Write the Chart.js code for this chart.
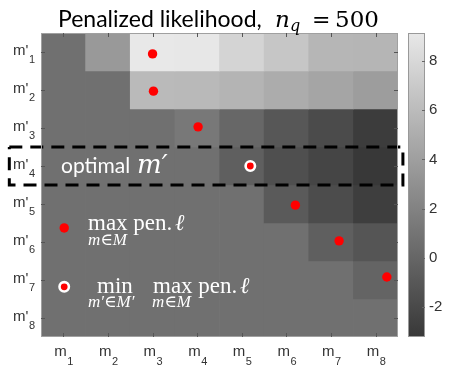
<!DOCTYPE html>
<html>
<head>
<meta charset="utf-8">
<title>Penalized likelihood</title>
<script src="https://cdn.jsdelivr.net/npm/chart.js@4.4.1/dist/chart.umd.min.js"></script>
<style>
  body { margin: 0; background: #fff; }
  #box { position: relative; width: 460px; height: 367px; }
  canvas { position: absolute; top: 0; }
  #heat { left: 0; }
  #cbar { left: 400px; }
</style>
</head>
<body>
<div id="box">
  <canvas id="heat" width="460" height="367"></canvas>
  <canvas id="cbar" width="60" height="367"></canvas>
</div>
<script>
// columns m_1..m_8, rows m'_1..m'_8
const colIndex = [1, 2, 3, 4, 5, 6, 7, 8];
const rowIndex = [1, 2, 3, 4, 5, 6, 7, 8];
const colSubs = ["1", "2", "3", "4", "5", "6", "7", "8"];
const rowSubs = ["1", "2", "3", "4", "5", "6", "7", "8"];

// penalized likelihood per row m'
const rowM1 = [0.71, 3.59, 9.14, 9.10, 7.74, 6.75, 5.63, 5.56];
const rowM2 = [0.71, 0.71, 5.91, 5.84, 5.49, 4.93, 4.43, 3.87];
const rowM3 = [0.71, 0.71, 0.71, 1.27, 0.08, -1.04, -1.89, -2.94];
const rowM4 = [0.71, 0.71, 0.71, 0.71, -0.48, -1.60, -2.31, -3.22];
const rowM5 = [0.71, 0.71, 0.71, 0.71, 0.71, -0.83, -1.82, -2.80];
const rowM6 = [0.71, 0.71, 0.71, 0.71, 0.71, 0.71, -0.48, -1.18];
const rowM7 = [0.71, 0.71, 0.71, 0.71, 0.71, 0.71, 0.71, -0.13];
const rowM8 = [0.71, 0.71, 0.71, 0.71, 0.71, 0.71, 0.71, 0.71];
const rows = [rowM1, rowM2, rowM3, rowM4, rowM5, rowM6, rowM7, rowM8];

// max over m for each row (red dots), the min-max one is ringed
const maxX = [3.0, 3.02, 4.02, 5.19, 6.2, 7.18, 8.25];
const maxY = [1.05, 2.03, 2.97, 4.0, 5.03, 5.97, 6.92];
const bestIndex = 3;

// legend markers
const legendX = [1.02, 1.02];
const legendY = [5.63, 7.18];

// dashed box round the optimal row
const boxX = [-0.21, 8.61];
const boxY = [3.5, 4.5];

// colour scale
const cbMin = -3.22;
const cbMax = 9.14;
const cbTicks = [-2, 0, 2, 4, 6, 8];

function grayFor(v) {
  const t = Math.max(0, Math.min(1, (v - cbMin) / (cbMax - cbMin)));
  const g = Math.round(56 + t * 176);
  return "rgb(" + g + "," + g + "," + g + ")";
}

function text(ctx, str, x, y, font, color) {
  ctx.font = font;
  ctx.fillStyle = color;
  ctx.fillText(str, x, y);
}

const SANS = "'Liberation Sans', Arial, sans-serif";
const SERIF = "'Liberation Serif', 'DejaVu Serif', serif";
const MATH = "'DejaVu Serif', serif";

const frame = {
  id: "frame",
  afterDatasetsDraw(chart) {
    const { ctx, chartArea: a, scales: { x, y } } = chart;
    ctx.save();
    ctx.strokeStyle = "#a0a0a0";
    ctx.lineWidth = 1;
    ctx.strokeRect(a.left + 0.5, a.top + 0.5, a.right - a.left - 1, a.bottom - a.top - 1);

    ctx.strokeStyle = "#555";
    ctx.beginPath();
    colIndex.forEach(c => {
      const px = Math.round(x.getPixelForValue(c)) + 0.5;
      ctx.moveTo(px, a.top); ctx.lineTo(px, a.top + 4);
      ctx.moveTo(px, a.bottom); ctx.lineTo(px, a.bottom - 4);
    });
    rowIndex.forEach(r => {
      const py = Math.round(y.getPixelForValue(r)) + 0.5;
      ctx.moveTo(a.left, py); ctx.lineTo(a.left + 4, py);
      ctx.moveTo(a.right, py); ctx.lineTo(a.right - 4, py);
    });
    ctx.stroke();

    // tick labels with subscripts
    ctx.textAlign = "left";
    ctx.textBaseline = "alphabetic";
    colIndex.forEach((c, i) => {
      const px = x.getPixelForValue(c);
      text(ctx, "m", px - 9, a.bottom + 19, "15px " + SANS, "#333");
      text(ctx, colSubs[i], px + 4, a.bottom + 28, "11px " + SANS, "#333");
    });
    rowIndex.forEach((r, i) => {
      const py = y.getPixelForValue(r);
      text(ctx, "m'", 13, py + 3, "15px " + SANS, "#333");
      text(ctx, rowSubs[i], 29, py + 11, "11px " + SANS, "#333");
    });

    // title
    text(ctx, "Penalized likelihood,", 58, 27, "23px Lato, " + SANS, "#000");
    text(ctx, "n", 275, 27, "italic 23px " + MATH, "#000");
    text(ctx, "q", 290, 31, "italic 16px " + MATH, "#000");
    text(ctx, "=", 312, 27, "22px " + MATH, "#000");
    text(ctx, "500", 335, 27, "23px " + MATH, "#000");

    // annotations
    const W = "#fff";
    text(ctx, "optimal", 61, 173, "21px Lato, " + SANS, W);
    text(ctx, "m\u2032", 137, 173, "italic 26px " + MATH, W);

    text(ctx, "max pen.", 88, 230, "23px " + SERIF, W);
    text(ctx, "\u2113", 175, 230, "italic 23px " + SERIF, W);
    text(ctx, "m\u2208M", 88, 245, "italic 17px " + SERIF, W);

    text(ctx, "min", 97, 293, "23px " + SERIF, W);
    text(ctx, "max pen.", 153, 293, "23px " + SERIF, W);
    text(ctx, "\u2113", 240, 293, "italic 23px " + SERIF, W);
    text(ctx, "m\u2032\u2208M\u2032", 88, 307, "italic 17px " + SERIF, W);
    text(ctx, "m\u2208M", 152, 307, "italic 17px " + SERIF, W);
    ctx.restore();
  }
};

const cellSets = rows.map((vals, r) => ({
  type: "bar",
  data: colIndex.map(c => ({ x: c, y: [rowIndex[r] - 0.5, rowIndex[r] + 0.5] })),
  backgroundColor: vals.map(grayFor),
  borderWidth: 0,
  grouped: false,
  barPercentage: 1,
  categoryPercentage: 1,
  order: 3
}));

const heatChart = new Chart(document.getElementById("heat"), {
  type: "bar",
  data: {
    datasets: cellSets.concat([
      {
        type: "line",
        data: [
          { x: boxX[0], y: boxY[0] }, { x: boxX[1], y: boxY[0] },
          { x: boxX[1], y: boxY[1] }, { x: boxX[0], y: boxY[1] },
          { x: boxX[0], y: boxY[0] }
        ],
        borderColor: "#000",
        borderWidth: 3,
        borderDash: [13, 8],
        pointRadius: 0,
        fill: false,
        tension: 0,
        clip: false,
        order: 1
      },
      {
        type: "line",
        showLine: false,
        data: maxX.map((v, i) => ({ x: v, y: maxY[i] })),
        pointRadius: 4.7,
        pointBackgroundColor: "#ff0000",
        pointBorderColor: "#ffffff",
        pointBorderWidth: maxX.map((v, i) => i === bestIndex ? 2.6 : 0),
        order: 0
      },
      {
        type: "line",
        showLine: false,
        data: legendX.map((v, i) => ({ x: v, y: legendY[i] })),
        pointRadius: 4.7,
        pointBackgroundColor: "#ff0000",
        pointBorderColor: "#ffffff",
        pointBorderWidth: [0, 2.6],
        order: 0
      }
    ])
  },
  options: {
    responsive: false,
    animation: false,
    events: [],
    layout: { padding: { left: 41, right: 62, top: 33, bottom: 30 } },
    scales: {
      x: { type: "linear", min: 0.5, max: 8.5, offset: false, display: false, ticks: { stepSize: 1 } },
      y: { type: "linear", min: 0.5, max: 8.5, reverse: true, display: false, ticks: { stepSize: 1 } }
    },
    plugins: { legend: { display: false }, tooltip: { enabled: false } }
  },
  plugins: [frame]
});

const cbFrame = {
  id: "cbFrame",
  afterDatasetsDraw(chart) {
    const { ctx, chartArea: a, scales: { y } } = chart;
    ctx.save();
    ctx.strokeStyle = "#999";
    ctx.lineWidth = 1;
    ctx.strokeRect(a.left + 0.5, a.top + 0.5, a.right - a.left - 1, a.bottom - a.top - 1);
    ctx.strokeStyle = "#666";
    ctx.beginPath();
    cbTicks.forEach(t => {
      const py = Math.round(y.getPixelForValue(t)) + 0.5;
      ctx.moveTo(a.right, py); ctx.lineTo(a.right - 3, py);
    });
    ctx.stroke();
    ctx.textAlign = "left";
    ctx.textBaseline = "middle";
    cbTicks.forEach(t => {
      text(ctx, String(t), a.right + 4, y.getPixelForValue(t), "15px " + SANS, "#333");
    });
    ctx.restore();
  }
};

const cbChart = new Chart(document.getElementById("cbar"), {
  type: "bar",
  data: {
    labels: ["scale"],
    datasets: [{
      data: [[cbMin, cbMax]],
      backgroundColor: c => {
        const { chart } = c;
        const { chartArea, scales } = chart;
        if (!chartArea) return grayFor(cbMin);
        const g = chart.ctx.createLinearGradient(0, scales.y.getPixelForValue(cbMin), 0, scales.y.getPixelForValue(cbMax));
        g.addColorStop(0, grayFor(cbMin));
        g.addColorStop(1, grayFor(cbMax));
        return g;
      },
      borderWidth: 0,
      barPercentage: 1,
      categoryPercentage: 1
    }]
  },
  options: {
    responsive: false,
    animation: false,
    events: [],
    layout: { padding: { left: 8, right: 35, top: 33, bottom: 30 } },
    scales: {
      x: { display: false },
      y: { display: false, min: cbMin, max: cbMax }
    },
    plugins: { legend: { display: false }, tooltip: { enabled: false } }
  },
  plugins: [cbFrame]
});
</script>
</body>
</html>
